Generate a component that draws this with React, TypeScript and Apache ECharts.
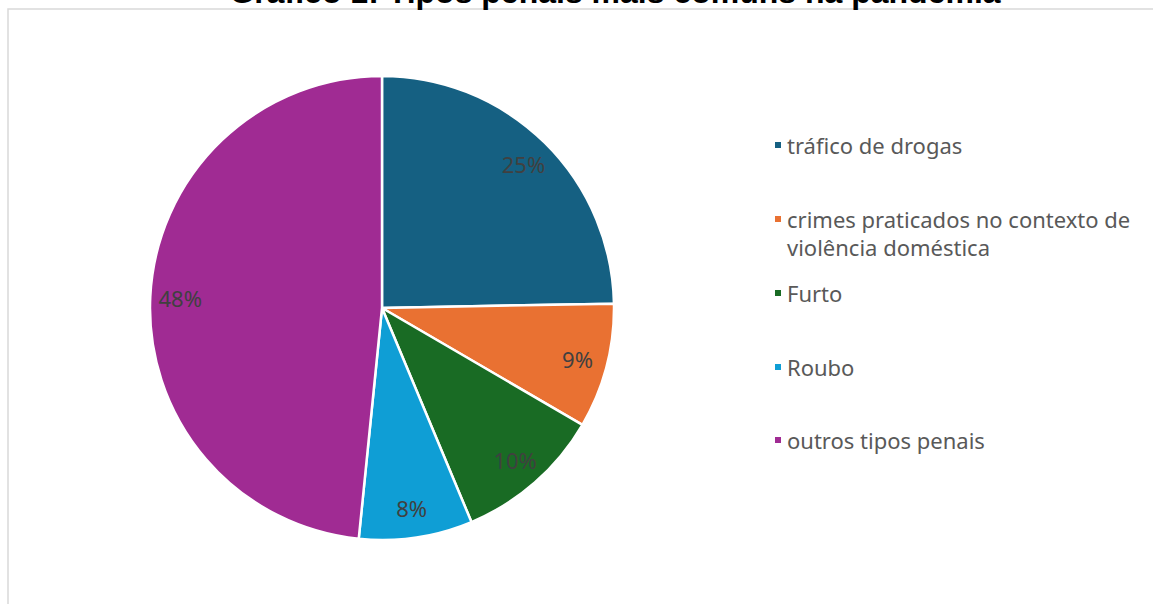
import React, { useEffect, useRef } from "react";
import * as echarts from "echarts";

const categories = [
  "tráfico de drogas",
  "crimes praticados no contexto de violência doméstica",
  "Furto",
  "Roubo",
  "outros tipos penais",
];
const values = [24.7, 8.7, 10.3, 7.9, 48.4];
const colors = ["#156082", "#E97132", "#196B24", "#0F9ED5", "#A02B93"];
const titleText = "Gráfico 1: Tipos penais mais comuns na pandemia";

const legendCenters = [145, 219, 293, 367, 440];

export default function App() {
  const ref = useRef<HTMLDivElement>(null);
  useEffect(() => {
    if (!ref.current) return;
    const chart = echarts.init(ref.current, null, { renderer: "svg" });
    const data = categories.map((name, i) => ({
      name,
      value: values[i],
      itemStyle: { color: colors[i] },
    }));
    const font = "'Noto Sans', sans-serif";
    const legends = categories.map((name, i) => {
      const multi = name.length > 30;
      return {
        data: [name],
        left: 773,
        top: multi ? legendCenters[i] - 42 : legendCenters[i] - 14,
        orient: "vertical",
        padding: 0,
        itemWidth: 8,
        itemHeight: 8,
        icon: "rect",
        selectedMode: false,
        formatter: (n: string) =>
          n.length > 30 ? "\n" + n.replace(" violência", "\nviolência") : n,
        textStyle: {
          fontFamily: font,
          fontSize: 22,
          color: "#595959",
          lineHeight: 28,
        },
      };
    });
    chart.setOption({
      animation: false,
      graphic: [
        {
          type: "rect",
          shape: { x: 8, y: 9, width: 1200, height: 700 },
          style: { fill: "none", stroke: "#d9d9d9", lineWidth: 1.5 },
          silent: true,
        },
        {
          type: "text",
          x: 615,
          y: 8,
          style: {
            text: titleText,
            fontFamily: "'Liberation Sans', Arial, sans-serif",
            fontWeight: "bold",
            fontSize: 32,
            fill: "#000",
            align: "center",
            verticalAlign: "bottom",
          },
        },
      ],
      legend: legends,
      series: [
        {
          type: "pie",
          center: [382, 308],
          radius: [0, 232],
          startAngle: 90,
          clockwise: true,
          label: { show: false },
          labelLine: { show: false },
          itemStyle: { borderColor: "#fff", borderWidth: 2.5 },
          emphasis: { disabled: true },
          data,
        },
        {
          type: "pie",
          center: [382, 308],
          radius: [166, 232],
          startAngle: 90,
          clockwise: true,
          silent: true,
          legendHoverLink: false,
          itemStyle: { color: "rgba(0,0,0,0)", borderWidth: 0 },
          label: {
            show: true,
            position: "inside",
            formatter: (p: any) => Math.round(p.value) + "%",
            fontFamily: font,
            fontSize: 22,
            color: "#404040",
          },
          labelLine: { show: false },
          emphasis: { disabled: true },
          data: categories.map((name, i) => ({
            name,
            value: values[i],
            itemStyle: { color: "rgba(0,0,0,0)" },
          })),
        },
      ],
    });
    return () => chart.dispose();
  }, []);
  return (
    <div
      ref={ref}
      style={{ position: "fixed", left: 0, top: 0, width: 1153, height: 604, background: "#fff" }}
    />
  );
}
